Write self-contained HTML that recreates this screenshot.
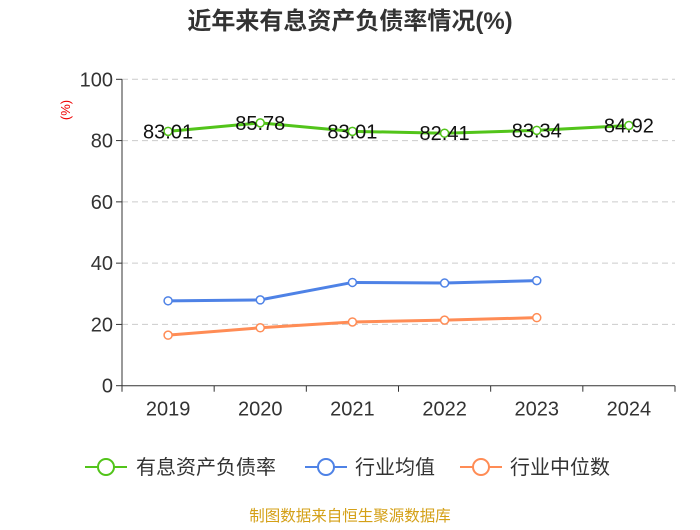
<!DOCTYPE html>
<html><head><meta charset="utf-8"><style>
body{margin:0;background:#fff;font-family:"Liberation Sans","Noto Sans CJK SC",sans-serif}
</style></head><body>
<svg id="c" width="700" height="525" xmlns="http://www.w3.org/2000/svg" style="font-family:'Liberation Sans','Noto Sans CJK SC',sans-serif">
<text x="350" y="29" text-anchor="middle" font-size="24" font-weight="bold" fill="#333">近年来有息资产负债率情况(%)</text>
<text x="70" y="110" text-anchor="middle" font-size="13" fill="#e00" transform="rotate(-90 70 110)">(%)</text>
<g id="grid"></g><g id="series"></g>
<g>
<g><line x1="85" y1="467" x2="127" y2="467" stroke="#52c41a" stroke-width="2"/><circle cx="106" cy="467" r="8" fill="#fff" stroke="#52c41a" stroke-width="2"/><text x="136" y="474" font-size="20" fill="#333">有息资产负债率</text></g>
<g><line x1="305" y1="467" x2="347" y2="467" stroke="#4e82e6" stroke-width="2"/><circle cx="326" cy="467" r="8" fill="#fff" stroke="#4e82e6" stroke-width="2"/><text x="355" y="474" font-size="20" fill="#333">行业均值</text></g>
<g><line x1="460" y1="467" x2="502" y2="467" stroke="#ff8c55" stroke-width="2"/><circle cx="481" cy="467" r="8" fill="#fff" stroke="#ff8c55" stroke-width="2"/><text x="510" y="474" font-size="20" fill="#333">行业中位数</text></g>
</g>
<text x="350" y="521" text-anchor="middle" font-size="15.5" fill="#d4a017">制图数据来自恒生聚源数据库</text>
</svg>
<script>
const categories=["2019","2020","2021","2022","2023","2024"];
const debtRatio=[83.01,85.78,83.01,82.41,83.34,84.92];
const industryAvg=[27.7,28.0,33.7,33.5,34.3];
const industryMedian=[16.5,18.9,20.8,21.4,22.2];
const yTicks=[0,20,40,60,80,100];
const NS="http://www.w3.org/2000/svg";
const L=122,R=675,T=79.3,B=385.7;
const y=v=>B-(v/100)*(B-T);
const bw=(R-L)/categories.length;
const x=i=>L+bw*(i+0.5);
function mk(t,a,p){const e=document.createElementNS(NS,t);for(const k in a)e.setAttribute(k,a[k]);p.appendChild(e);return e;}
const g=document.getElementById('grid'),s=document.getElementById('series');
yTicks.forEach(v=>{
 if(v>0){const gl=mk('line',{x1:L,x2:R,y1:y(v),y2:y(v),stroke:'#ccc','stroke-dasharray':'6,4'},g);
 
 }
 const tk=mk('line',{x1:L-6,x2:L,y1:y(v),y2:y(v),stroke:'#333'},g);
 
 
 const t=mk('text',{x:L-9,y:y(v)+7,'text-anchor':'end','font-size':20,fill:'#333'},g);t.textContent=v;
 
 
});
const ya=mk('line',{x1:L,x2:L,y1:T,y2:B,stroke:'#333'},g);


const xa=mk('line',{x1:L,x2:R,y1:B,y2:B,stroke:'#333'},g);


for(let i=0;i<=categories.length;i++){const tk=mk('line',{x1:L+bw*i,x2:L+bw*i,y1:B,y2:B+6,stroke:'#333'},g);
 
 }
categories.forEach((c,i)=>{const t=mk('text',{x:x(i),y:B+30,'text-anchor':'middle','font-size':20,fill:'#333'},g);t.textContent=c;
 
 });
function series(data,color,name,labels){
 const pl=mk('polyline',{points:data.map((v,i)=>x(i)+','+y(v)).join(' '),fill:'none',stroke:color,'stroke-width':3},s);
 
 
 data.forEach((v,i)=>{
  const c=mk('circle',{cx:x(i),cy:y(v),r:4,fill:'#fff',stroke:color,'stroke-width':1.5},s);
  
  
  if(labels){const t=mk('text',{x:x(i),y:y(v)+7,'text-anchor':'middle','font-size':20,fill:'#111'},s);t.textContent=v.toFixed(2);
   
   }
 });
}
series(industryMedian,'#ff8c55','industry-median',false);
series(industryAvg,'#4e82e6','industry-average',false);
series(debtRatio,'#52c41a','debt-ratio',true);
</script>
</body></html>
